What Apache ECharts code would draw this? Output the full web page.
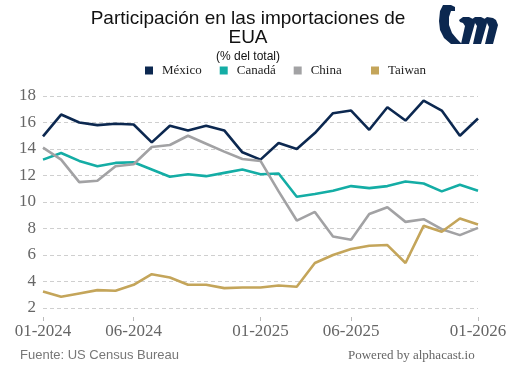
<!DOCTYPE html>
<html>
<head>
<meta charset="utf-8">
<script src="https://cdn.jsdelivr.net/npm/echarts@6/dist/echarts.min.js"></script>
<style>
html,body{margin:0;padding:0;background:#fff;}
#chart{width:514px;height:371px;}
</style>
</head>
<body>
<div id="chart"></div>
<script>
const months = ["01-2024","02-2024","03-2024","04-2024","05-2024","06-2024","07-2024","08-2024","09-2024","10-2024","11-2024","12-2024",
  "01-2025","02-2025","03-2025","04-2025","05-2025","06-2025","07-2025","08-2025","09-2025","10-2025","11-2025","12-2025","01-2026"];
const labelIdx = [0,5,12,17,24];
const mexico = [14.95,16.6,16.0,15.8,15.9,15.85,14.5,15.75,15.4,15.75,15.4,13.75,13.2,14.45,14.0,15.2,16.7,16.9,15.45,17.15,16.15,17.65,16.9,15.0,16.3];
const canada = [13.2,13.7,13.1,12.7,12.95,13.0,12.45,11.9,12.1,11.95,12.2,12.45,12.1,12.15,10.4,10.6,10.85,11.2,11.05,11.2,11.55,11.4,10.8,11.3,10.85];
const china  = [14.1,13.2,11.5,11.6,12.7,12.85,14.15,14.3,15.0,14.4,13.8,13.25,13.1,10.8,8.6,9.25,7.4,7.15,9.1,9.6,8.5,8.7,7.95,7.5,8.05];
const taiwan = [3.25,2.85,3.1,3.35,3.3,3.75,4.55,4.3,3.75,3.75,3.5,3.55,3.55,3.7,3.6,5.4,6.0,6.45,6.7,6.75,5.4,8.2,7.75,8.75,8.3];
const seriesNames = ["México","Canadá","China","Taiwan"];
const colors = ["#0c2850","#14ada5","#a2a2a4","#c4a55a"];

const chart = echarts.init(document.getElementById('chart'), null, {renderer:'canvas'});
const mk = (name, data, c) => ({
  name, type:'line', data, symbol:'none', smooth:false,
  lineStyle:{width:2.6, color:c}, itemStyle:{color:c}
});
const logoFill = {fill:'#0c2850'};
const legendBase = {
  top:64, padding:0, itemWidth:8, itemHeight:8, itemGap:18, icon:'rect',
  textStyle:{fontFamily:'Liberation Serif', fontSize:13, color:'#222', padding:[0,0,0,4]}
};
chart.setOption({
  animation:false,
  color:colors,
  title:[
    {text:"Participación en las importaciones de\nEUA", left:243, textAlign:'center', top:4,
     textStyle:{fontFamily:'Liberation Sans', fontSize:19, fontWeight:'normal', color:'#111', lineHeight:19}},
    {text:"(% del total)", left:243, textAlign:'center', top:46,
     textStyle:{fontFamily:'Liberation Sans', fontSize:12, fontWeight:'normal', color:'#111'}}
  ],
  legend:[
    Object.assign({}, legendBase, {data:seriesNames.slice(0,3), left:145}),
    Object.assign({}, legendBase, {data:seriesNames.slice(3), left:371})
  ],
  grid:{left:43, right:36, top:96, bottom:63, containLabel:false},
  xAxis:{
    type:'category', data:months, boundaryGap:false, offset:9,
    axisLine:{show:false},
    axisTick:{show:true, length:4, lineStyle:{color:'#bbb'}, interval:(i)=>labelIdx.includes(i)},
    axisLabel:{interval:(i)=>labelIdx.includes(i), fontFamily:'Liberation Serif', fontSize:17, color:'#666', margin:6},
    splitLine:{show:false}
  },
  yAxis:{
    type:'value', min:2, max:18, interval:2,
    axisLine:{show:false}, axisTick:{show:false},
    axisLabel:{fontFamily:'Liberation Serif', fontSize:17, color:'#666', margin:7},
    splitLine:{lineStyle:{color:'#cfcfcf', type:[4,3], width:1}}
  },
  series:[mk(seriesNames[0],mexico,colors[0]), mk(seriesNames[1],canada,colors[1]), mk(seriesNames[2],china,colors[2]), mk(seriesNames[3],taiwan,colors[3])],
  graphic:[
    {type:'text', x:20, y:349, style:{text:"Fuente: US Census Bureau", font:'13px "Liberation Sans"', fill:'#777'}},
    {type:'text', x:348, y:349, style:{text:"Powered by alphacast.io", font:'13px "Liberation Serif"', fill:'#666'}},
    {type:'polygon', shape:{points:[[443,5],[451,5],[455,7],[455,11],[451,11],[449,17],[449,25],[452,33],[457,39],[462,44],[451,44],[444,38],[440,30],[439,21],[440,11]]}, style:logoFill},
    {type:'polygon', shape:{points:[[459,20],[463,17],[469,17],[473,19],[475,23],[469,44],[461,44],[465,26],[463,23],[460,22]]}, style:logoFill},
    {type:'polygon', shape:{points:[[471,20],[475,17],[481,17],[485,19],[487,23],[481,44],[473,44],[477,26],[475,23],[472,22]]}, style:logoFill},
    {type:'polygon', shape:{points:[[483,20],[487,17],[493,18],[496,20],[498,25],[493,44],[485,44],[489,27],[487,23],[484,22]]}, style:logoFill}
  ]
});
</script>
</body>
</html>
